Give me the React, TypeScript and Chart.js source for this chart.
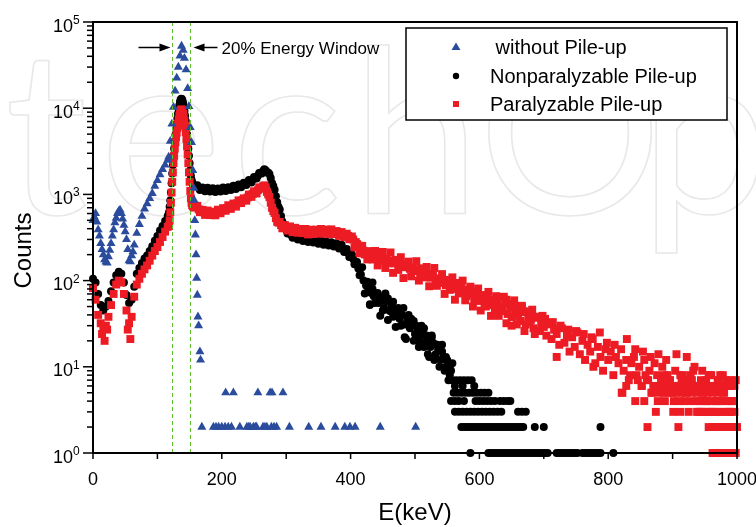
import React, { useEffect, useRef } from "react";
import { Chart, registerables } from "chart.js";

Chart.register(...registerables);

const FONT = "'Liberation Sans', Arial, Helvetica, sans-serif";
const BLUE = "#2b4c9c";
const RED = "#ed1c24";
const BLACK = "#000000";
const GREEN = "#5cbf2e";

// ---- axes / annotation values ----
const X_TICKS = [0, 200, 400, 600, 800, 1000];
const X_MINOR = [100, 300, 500, 700, 900];
const Y_DECADES = [0, 1, 2, 3, 4, 5];
const WINDOW_KEV = [123.3, 150.7];
const LEGEND_LABELS = [" without Pile-up", "Nonparalyzable Pile-up", "Paralyzable Pile-up"];

// ---- low energy region (keV) ----
const lowE = [0, 4, 8, 12, 16, 20, 24, 28, 32, 36, 40, 44, 48, 52, 56, 60, 64, 68, 72, 76, 80, 84, 88, 92, 96, 100, 104, 108, 112, 116];
const blueLow = [500, 600, 390, 270, 200, 165, 190, 270, 390, 530, 640, 600, 440, 300, 170, 195, 260, 355, 450, 560, 680, 780, 900, 1030, 1250, 1450, 1700, 1950, 2200, 2500];
const blackLow = [105, 95, 70, 52, 45, 50, 58, 75, 95, 115, 127, 120, 95, 68, 55, 60, 85, 120, 140, 160, 180, 195, 220, 250, 290, 330, 380, 430, 490, 560];
const redLow = [82, 60, 40, 32, 28, 30, 38, 52, 70, 90, 100, 95, 70, 45, 32, 38, 65, 90, 105, 120, 135, 150, 170, 195, 220, 245, 280, 320, 370, 420];

const blueExtraE = [2, 6, 10, 14, 18, 22, 26, 30, 34, 38, 42, 46, 50, 54, 58, 62];
const blueExtraC = [550, 480, 330, 230, 175, 160, 225, 330, 470, 600, 660, 520, 370, 230, 166, 217];

// ---- photopeak (keV) ----
const bluePeakE = [117.5, 120, 122.5, 125, 127.5, 130, 132.5, 135, 137.5, 140, 142, 144.5, 147, 149, 151, 153, 155, 156.5, 157, 158, 159, 160, 161, 162, 163, 164, 166, 167];
const bluePeakC = [2720, 4150, 6560, 10300, 15900, 22400, 30000, 40400, 52600, 47000, 38000, 28000, 17000, 10500, 6000, 4000, 1900, 1180, 860, 500, 340, 200, 107, 68, 38, 30, 15, 12];

const peakE = [118, 119, 120, 121, 122, 123, 124, 125, 126, 127, 128, 129, 130, 131, 132, 133, 134, 135, 136, 137, 138, 139, 140, 141, 142, 143, 144, 145, 146, 147, 148, 149, 150, 151, 152, 153, 154, 155, 156, 157, 158];
const blackPeak = [620, 720, 850, 1050, 1350, 1750, 2200, 2800, 3400, 4100, 4900, 5700, 6600, 7600, 8600, 9700, 10800, 11800, 12500, 12900, 12800, 12300, 11400, 10400, 9300, 8200, 7100, 6000, 5000, 4100, 3400, 2800, 2300, 1900, 1650, 1480, 1380, 1320, 1280, 1260, 1250];
const redPeak = [430, 500, 620, 800, 1050, 1400, 1800, 2300, 2800, 3400, 4000, 4600, 5200, 5900, 6600, 7300, 8100, 8800, 9400, 9700, 9500, 9200, 8600, 7800, 7000, 6200, 5300, 4400, 3600, 2900, 2300, 1800, 1400, 1100, 900, 800, 750, 730, 720, 710, 705];

// ---- continuum 160-556 keV ----
const midE = [160, 164, 168, 172, 176, 180, 184, 188, 192, 196, 200, 204, 208, 212, 216, 220, 224, 228, 232, 236, 240, 244, 248, 252, 256, 260, 264, 268, 272, 276, 280, 284, 288, 292, 296, 300, 304, 308, 312, 316, 320, 324, 328, 332, 336, 340, 344, 348, 352, 356, 360, 364, 368, 372, 376, 380, 384, 388, 392, 396, 400, 404, 408, 412, 416, 420, 424, 428, 432, 436, 440, 444, 448, 452, 456, 460, 464, 468, 472, 476, 480, 484, 488, 492, 496, 500, 504, 508, 512, 516, 520, 524, 528, 532, 536, 540, 544, 548, 552, 556];
const blackMid = [
  1240, 1200, 1170, 1150, 1140, 1130, 1120, 1120, 1125, 1130,
  1140, 1150, 1160, 1170, 1190, 1210, 1230, 1260, 1290, 1330,
  1370, 1420, 1480, 1560, 1650, 1760, 1870, 1900, 1800, 1550,
  1250, 950, 720, 560, 450, 390, 355, 335, 325, 318,
  312, 306, 300, 297, 295, 292, 288, 285, 280, 276,
  272, 270, 267, 264, 260, 255, 248, 238, 225, 210,
  195, 178, 160, 138, 118, 100, 88, 78, 72, 66,
  62, 55, 64, 48, 57, 45, 50, 40, 44, 36,
  40, 31, 35, 28, 31, 24, 27, 22, 25, 19,
  21, 17, 19, 14, 16, 12, 13, 10, 11, 9,
];
const redMid = [
  720, 670, 640, 620, 610, 605, 605, 610, 620, 635,
  650, 670, 690, 710, 735, 760, 790, 820, 850, 880,
  920, 960, 1010, 1060, 1120, 1180, 1240, 1210, 1000, 800,
  640, 530, 470, 440, 420, 410, 400, 395, 390, 385,
  380, 376, 372, 370, 368, 366, 372, 370, 368, 375,
  372, 370, 375, 368, 362, 355, 348, 342, 336, 330,
  320, 300, 280, 255, 240, 222, 215, 200, 204, 190,
  195, 178, 185, 170, 178, 165, 170, 158, 162, 150,
  155, 143, 150, 137, 142, 130, 136, 122, 128, 115,
  120, 108, 113, 100, 106, 94, 99, 88, 92, 82,
];

// neighbouring channels of the continuum (channel-to-channel noise)
const blackOff1E = [162, 166, 170, 174, 178, 182, 186, 190, 194, 198, 202, 206, 210, 214, 218, 222, 226, 230, 234, 238, 242, 246, 250, 254, 258, 262, 266, 270, 274, 278, 282, 286, 290, 294, 298, 302, 306, 310, 314, 318, 322, 326, 330, 334, 338, 342, 346, 350, 354, 358, 362, 366, 370, 374, 378, 382, 386, 390, 394, 398, 402, 406, 410, 414];
const blackOff1C = [
  1281, 1126, 1206, 1088, 1192, 1080, 1176, 1066, 1172, 1078,
  1202, 1097, 1212, 1121, 1260, 1159, 1307, 1211, 1362, 1283,
  1465, 1378, 1596, 1525, 1773, 1742, 1960, 1795, 1725, 1358,
  1133, 810, 666, 485, 441, 353, 362, 314, 337, 299,
  324, 288, 313, 281, 308, 276, 300, 268, 292, 260,
  285, 255, 278, 249, 272, 236, 260, 215, 232, 188,
  201, 155, 164, 115,
];
const redOff1E = [162, 166, 170, 174, 178, 182, 186, 190, 194, 198, 202, 206, 210, 214, 218, 222, 226, 230, 234, 238, 242, 246, 250, 254, 258, 262, 266, 270, 274, 278, 282, 286, 290, 294, 298, 302, 306, 310, 314, 318, 322, 326, 330, 334, 338, 342, 346, 350, 354, 358, 362, 366, 370, 374, 378, 382, 386, 390, 394, 398];
const redOff1C = [
  737, 622, 662, 578, 650, 575, 631, 572, 665, 604,
  693, 646, 749, 679, 784, 721, 853, 793, 900, 846,
  996, 936, 1087, 1025, 1208, 1162, 1274, 1067, 927, 698,
  608, 480, 478, 404, 440, 381, 425, 365, 410, 359,
  397, 355, 397, 343, 389, 347, 390, 351, 397, 351,
  390, 346, 393, 347, 376, 330, 366, 319, 350, 302,
];
const redOffE = [402, 406, 410, 414, 418, 422, 426, 430, 434, 438, 442, 446, 450, 454, 458, 462, 466, 470, 474, 478, 482, 486, 490, 494, 498, 502, 506, 510, 514, 518, 522, 526, 530, 534, 538, 542, 546, 550, 554, 558, 562, 566, 570, 574, 578, 582, 586, 590, 594, 598, 602, 606, 610, 614, 618, 622, 626, 630, 634, 638, 642, 646, 650, 654, 658, 662, 666, 670, 674, 678, 682, 686, 690, 694, 698];
const redOffC = [
  325, 243, 265, 207, 253, 201, 176, 220, 176, 221,
  150, 192, 215, 140, 159, 212, 123, 174, 133, 187,
  107, 147, 166, 112, 129, 168, 100, 139, 109, 144,
  86, 119, 140, 87, 99, 119, 70, 102, 78, 109,
  60, 94, 74, 100, 59, 77, 85, 50, 65, 81,
  45, 68, 50, 74, 39, 58, 66, 39, 48, 65,
  32, 54, 38, 59, 31, 43, 51, 26, 43, 33,
  46, 24, 38, 26, 39,
];
const blackOffE = [418, 422, 426, 430, 434, 438, 442, 446, 450, 454, 458, 462, 466, 470, 474, 478, 482, 486, 490, 494, 498, 502, 506, 510, 514, 518, 522, 526, 530, 534, 538, 542, 546, 550, 554, 558];
const blackOffC = [143, 71, 97, 53, 95, 55, 72, 39, 59, 71, 35, 44, 57, 29, 46, 30, 48, 21, 32, 36, 20, 30, 17, 30, 17, 23, 13, 22, 12, 18, 10, 18, 9, 12, 8, 11];

// ---- high-energy tail 560-1000 keV ----
const tailE = [560, 564, 568, 572, 576, 580, 584, 588, 592, 596, 600, 604, 608, 612, 616, 620, 624, 628, 632, 636, 640, 644, 648, 652, 656, 660, 664, 668, 672, 676, 680, 684, 688, 692, 696, 700, 704, 708, 712, 716, 720, 724, 728, 732, 736, 740, 744, 748, 752, 756, 760, 764, 768, 772, 776, 780, 784, 788, 792, 796, 800, 804, 808, 812, 816, 820, 824, 828, 832, 836, 840, 844, 848, 852, 856, 860, 864, 868, 872, 876, 880, 884, 888, 892, 896, 900, 904, 908, 912, 916, 920, 924, 928, 932, 936, 940, 944, 948, 952, 956, 960, 964, 968, 972, 976, 980, 984, 988, 992, 996, 1000];
const redTail = [
  92, 80, 71, 84, 76, 66, 79, 70, 61, 73,
  58, 67, 55, 63, 52, 60, 47, 57, 50, 44,
  54, 41, 49, 38, 46, 40, 34, 44, 31, 38,
  35, 28, 37, 26, 32, 29, 23, 31, 21, 27,
  24, 18, 28, 19, 23, 15, 22, 17, 25, 14,
  20, 12, 18, 15, 21, 11, 17, 13, 9, 16,
  12, 15, 8, 13, 11, 16, 9, 12, 7, 11,
  13, 8, 10, 6, 12, 7, 9, 5, 11, 8,
  6, 10, 4, 8, 7, 5, 9, 6, 3, 8,
  5, 7, 4, 9, 6, 3, 7, 5, 4, 8,
  3, 6, 4, 7, 2, 5, 6, 3, 4, 6, 2,
];

// ---- sparse / low-count points ----
const blueLevels = [5, 2];
const blueLevelE = [
  [206, 218, 256, 275, 278, 295],
  [169, 187, 191, 195, 200, 205, 210, 215, 228, 239, 242, 244, 249, 252, 254, 264, 267, 270, 277, 281, 285, 305, 335, 354, 376, 391, 399, 407, 446, 501],
];

const blackScatterE = [430, 434, 442, 450, 458, 466, 474, 484, 490, 498, 506, 514, 520, 526, 534, 542, 548, 554];
const blackScatterC = [52, 80, 70, 45, 62, 38, 48, 22, 40, 34, 20, 28, 14, 23, 18, 15, 13, 10];
const blackLevels = [7, 6, 5, 4, 3, 2, 1];
const blackLevelE = [
  [552, 558, 564, 570, 576, 582, 588],
  [562, 574, 592],
  [560, 566, 572, 578, 584, 590, 596, 602, 608, 614],
  [556, 562, 568, 576, 594, 600, 606, 612, 618, 624, 632, 638, 644, 648],
  [562, 568, 574, 580, 586, 592, 598, 604, 610, 616, 622, 628, 634, 660, 666, 672],
  [572, 576, 580, 584, 588, 592, 596, 600, 604, 608, 612, 616, 620, 624, 628, 632, 636, 640, 644, 648, 652, 656, 660, 664, 668, 686, 700, 788],
  [586, 614, 618, 622, 626, 630, 634, 638, 642, 646, 650, 654, 658, 662, 666, 670, 674, 678, 682, 686, 690, 694, 698, 702, 706, 720, 724, 728, 732, 736, 740, 744, 748, 752, 760, 764, 768, 772, 776, 780, 784, 788, 808],
];

const redScatterE = [14, 18, 22, 54, 58, 642, 650, 654, 666, 678, 690, 702, 714, 720, 726, 738, 750, 762, 774, 777, 787, 798, 810, 821, 829, 842, 854, 866, 878, 890, 906, 922, 934, 946, 958, 978, 990];
const redScatterC = [24, 20, 27, 27, 21, 60, 30, 52, 48, 44, 38, 36, 33, 13, 30, 27, 26, 24, 22, 10, 25, 19, 18, 5, 21, 16, 15, 13, 14, 12, 14, 13, 10, 9, 8, 8, 7];
const redLevels = [1, 2, 3, 4, 5, 6, 7, 8];
const redLevelE = [
  [962, 966, 970, 974, 978, 982, 986, 990, 994, 998],
  [861, 909, 956, 962, 966, 970, 976, 982, 986, 990, 994, 998],
  [874, 901, 925, 938, 942, 946, 950, 954, 962, 966, 972, 978, 984, 990, 996],
  [842, 856, 877, 902, 910, 918, 938, 942, 950, 954, 962, 968, 974, 980, 986, 992],
  [822, 867, 880, 886, 892, 898, 906, 914, 922, 930, 938, 946, 954, 962, 970, 978],
  [828, 852, 870, 878, 884, 890, 896, 902, 910, 918, 926, 934, 942, 950, 958, 966, 976, 990],
  [846, 862, 882, 894, 914, 930, 952, 970, 984, 998],
  [834, 858, 888, 912, 928, 960, 974],
];

// ---- helpers ----
const zip = (xs: number[], ys: number[]) => xs.map((x, i) => ({ x, y: ys[i] }));
const rows = (levels: number[], lists: number[][]) =>
  levels.flatMap((c, i) => lists[i].map((x) => ({ x, y: c })));

const blueData = [
  ...zip(lowE, blueLow),
  ...zip(blueExtraE, blueExtraC),
  ...zip(bluePeakE, bluePeakC),
  ...rows(blueLevels, blueLevelE),
];
const blackData = [
  ...zip(lowE, blackLow),
  ...zip(peakE, blackPeak),
  ...zip(midE, blackMid),
  ...zip(blackOff1E, blackOff1C),
  ...zip(blackOffE, blackOffC),
  ...zip(blackScatterE, blackScatterC),
  ...rows(blackLevels, blackLevelE),
];
const redData = [
  ...zip(lowE, redLow),
  ...zip(peakE, redPeak),
  ...zip(midE, redMid),
  ...zip(redOff1E, redOff1C),
  ...zip(redOffE, redOffC),
  ...zip(tailE, redTail),
  ...zip(redScatterE, redScatterC),
  ...rows(redLevels, redLevelE),
];

// faint background watermark
const WM_LETTERS = ["t", "e", "c", "h", "O", "p"];
const WM_X = [5, 100, 232, 352, 478, 640];

const watermarkPlugin = {
  id: "watermark",
  beforeDatasetsDraw(chart: any) {
    const ctx = chart.ctx;
    ctx.save();
    ctx.strokeStyle = "#e8e8e8";
    ctx.lineWidth = 1.6;
    ctx.font = "230px Lato, 'Liberation Sans', sans-serif";
    ctx.textBaseline = "alphabetic";
    WM_LETTERS.forEach((ch, i) => ctx.strokeText(ch, WM_X[i], 214));
    ctx.restore();
  },
};

const decorPlugin = {
  id: "decor",
  afterDraw(chart: any) {
    const { ctx, chartArea: a } = chart;
    const x = chart.scales.x;
    const y = chart.scales.y;
    const line = (x1: number, y1: number, x2: number, y2: number) => {
      ctx.beginPath();
      ctx.moveTo(x1, y1);
      ctx.lineTo(x2, y2);
      ctx.stroke();
    };
    ctx.save();

    // energy window lines
    ctx.strokeStyle = GREEN;
    ctx.lineWidth = 1;
    ctx.setLineDash([4, 3]);
    const winPx = WINDOW_KEV.map((k) => Math.round(x.getPixelForValue(k)) + 0.5);
    winPx.forEach((px) => line(px, a.top, px, a.bottom));
    ctx.setLineDash([]);

    // frame
    ctx.strokeStyle = "#000";
    ctx.lineWidth = 2;
    ctx.strokeRect(a.left, a.top, a.right - a.left, a.bottom - a.top);

    // ticks
    ctx.lineWidth = 1.5;
    [...X_TICKS, ...X_MINOR].forEach((v) => {
      const px = x.getPixelForValue(v);
      line(px, a.bottom, px, a.bottom + 6);
    });
    Y_DECADES.forEach((e) => {
      const base = Math.pow(10, e);
      const py = y.getPixelForValue(base);
      line(a.left - 10, py, a.left, py);
      if (e < 5) {
        for (let m = 2; m <= 9; m++) {
          const pm = y.getPixelForValue(m * base);
          line(a.left - 6, pm, a.left, pm);
        }
      }
    });

    // tick labels
    ctx.fillStyle = "#000";
    ctx.textBaseline = "alphabetic";
    ctx.font = `18px ${FONT}`;
    ctx.textAlign = "center";
    X_TICKS.forEach((v) => ctx.fillText(String(v), x.getPixelForValue(v), a.bottom + 32));
    Y_DECADES.forEach((e) => {
      const py = y.getPixelForValue(Math.pow(10, e));
      ctx.font = `18px ${FONT}`;
      ctx.textAlign = "right";
      ctx.fillText("10", a.left - 20, py + 9.5);
      ctx.font = `12px ${FONT}`;
      ctx.textAlign = "left";
      ctx.fillText(String(e), a.left - 20, py + 2);
    });

    // axis titles
    ctx.font = `24px ${FONT}`;
    ctx.textAlign = "center";
    ctx.fillText("E(keV)", (a.left + a.right) / 2, a.bottom + 67);
    ctx.save();
    ctx.translate(31, (a.top + a.bottom) / 2 + 13);
    ctx.rotate(-Math.PI / 2);
    ctx.fillText("Counts", 0, 0);
    ctx.restore();

    // annotation arrows
    const ay = 47.5;
    const tipL = winPx[0] - 2;
    const tipR = winPx[1] + 3;
    ctx.strokeStyle = "#000";
    ctx.lineWidth = 1.5;
    line(tipL - 32, ay, tipL - 9, ay);
    line(tipR + 9, ay, tipR + 24, ay);
    ctx.beginPath();
    ctx.moveTo(tipL, ay);
    ctx.lineTo(tipL - 11, ay - 4);
    ctx.lineTo(tipL - 11, ay + 4);
    ctx.closePath();
    ctx.fill();
    ctx.beginPath();
    ctx.moveTo(tipR, ay);
    ctx.lineTo(tipR + 11, ay - 4);
    ctx.lineTo(tipR + 11, ay + 4);
    ctx.closePath();
    ctx.fill();
    ctx.font = `17px ${FONT}`;
    ctx.textAlign = "left";
    ctx.fillText("20% Energy Window", tipR + 28, ay + 6);

    // legend
    const lx = 406, ly = 28, lw = 321, lh = 92;
    ctx.fillStyle = "#fff";
    ctx.fillRect(lx, ly, lw, lh);
    ctx.strokeStyle = "#000";
    ctx.lineWidth = 1.5;
    ctx.strokeRect(lx, ly, lw, lh);
    const mx = 456;
    const rowsY = [47, 76, 104];
    ctx.fillStyle = BLUE;
    ctx.beginPath();
    ctx.moveTo(mx, rowsY[0] - 4.5);
    ctx.lineTo(mx + 4.5, rowsY[0] + 3);
    ctx.lineTo(mx - 4.5, rowsY[0] + 3);
    ctx.closePath();
    ctx.fill();
    ctx.fillStyle = BLACK;
    ctx.beginPath();
    ctx.arc(mx, rowsY[1], 3.2, 0, Math.PI * 2);
    ctx.fill();
    ctx.fillStyle = RED;
    ctx.fillRect(mx - 3, rowsY[2] - 3, 6, 6);
    ctx.fillStyle = "#000";
    ctx.font = `20px ${FONT}`;
    ctx.textAlign = "left";
    LEGEND_LABELS.forEach((t, i) => ctx.fillText(t, 490, rowsY[i] + 7));

    ctx.restore();
  },
};

export default function App() {
  const ref = useRef<HTMLCanvasElement>(null);
  useEffect(() => {
    if (!ref.current) return;
    const chart = new Chart(ref.current, {
      type: "scatter",
      data: {
        datasets: [
          {
            label: "without Pile-up",
            data: blueData,
            pointStyle: "triangle",
            pointRadius: 5.2,
            backgroundColor: BLUE,
            borderColor: BLUE,
            borderWidth: 0,
            clip: false,
            order: 0,
          },
          {
            label: "Paralyzable Pile-up",
            data: redData,
            pointStyle: "rect",
            pointRadius: 5.6,
            backgroundColor: RED,
            borderColor: RED,
            borderWidth: 0,
            clip: false,
            order: 1,
          },
          {
            label: "Nonparalyzable Pile-up",
            data: blackData,
            pointStyle: "circle",
            pointRadius: 4,
            backgroundColor: BLACK,
            borderColor: BLACK,
            borderWidth: 0,
            clip: false,
            order: 2,
          },
        ] as any,
      },
      options: {
        responsive: false,
        maintainAspectRatio: false,
        devicePixelRatio: 1,
        animation: false,
        events: [],
        layout: { padding: { left: 93, right: 19, top: 22, bottom: 74 } },
        scales: {
          x: { type: "linear", min: 0, max: 1000, display: false },
          y: { type: "logarithmic", min: 1, max: 100000, display: false },
        },
        plugins: {
          legend: { display: false },
          tooltip: { enabled: false },
        },
      } as any,
      plugins: [watermarkPlugin, decorPlugin],
    });
    return () => chart.destroy();
  }, []);
  return (
    <div style={{ position: "absolute", left: 0, top: 0, width: 756, height: 527, background: "#fff" }}>
      <canvas ref={ref} width={756} height={527} style={{ display: "block", width: 756, height: 527 }} />
    </div>
  );
}
